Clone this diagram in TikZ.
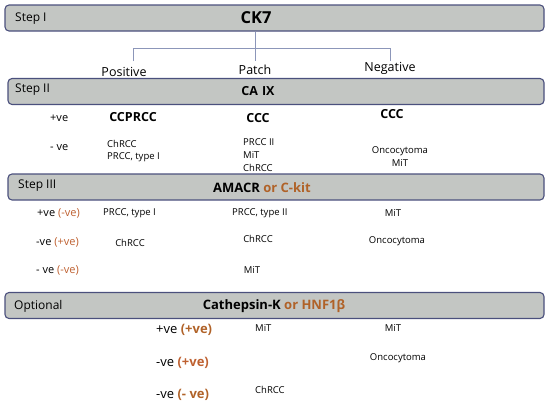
\documentclass[tikz,border=0pt]{standalone}
\usepackage{fontspec}
\setmainfont{Open Sans}
\usetikzlibrary{positioning}
\definecolor{barfill}{RGB}{195,198,195}
\definecolor{bardraw}{RGB}{75,80,125}
\definecolor{treeline}{RGB}{140,150,185}
\definecolor{orbrown}{RGB}{176,98,40}
\definecolor{vebrown}{RGB}{190,96,48}
\tikzset{
  bar/.style={draw=bardraw, fill=barfill, line width=1.1pt, rounded corners=4pt,
    minimum height=26pt, inner sep=0pt},
  steplab/.style={anchor=west, font=\fontsize{12}{13}\selectfont, inner sep=0pt},
  marker/.style={font=\fontsize{12.5}{14}\selectfont\bfseries, inner sep=0pt},
  cell/.style={font=\fontsize{9.5}{11}\selectfont, inner sep=0pt},
  sign/.style={anchor=west, font=\fontsize{11}{12}\selectfont, inner sep=0pt},
  bigsign/.style={anchor=west, font=\fontsize{13}{14}\selectfont, inner sep=0pt},
  tree/.style={draw=treeline, line width=0.7pt}
}
\newcommand{\orpart}[1]{\textcolor{orbrown}{#1}}
\newcommand{\vepart}[1]{\textcolor{vebrown}{#1}}
\begin{document}
\begin{tikzpicture}[x=1pt,y=-1pt]
	\useasboundingbox (0,0) rectangle (550,407);

	% Step I
	\node[bar, minimum width=539pt] (s1) at (274.5,18) {};
	\node[steplab] (s1lab) at (15,19) {Step I};
	\node[marker, font=\fontsize{16.5}{18}\selectfont\bfseries] (ck7) at (256,18) {CK7};

	\coordinate (po) at (133,61);
	\coordinate (pa) at (255,61);
	\coordinate (ne) at (390,61);
	\coordinate (hl) at (0,48);
	\draw[tree] (pa |- s1.south) -- (pa);
	\draw[tree] (po) -- (po |- hl) -- (ne |- hl) -- (ne);

	\node[cell, font=\fontsize{12.5}{13}\selectfont] (pos) at (124,72) {Positive};
	\node[cell, font=\fontsize{12.5}{13}\selectfont] (pat) at (255,70) {Patch};
	\node[cell, font=\fontsize{12.5}{13}\selectfont] (neg) at (390,68) {Negative};

	% Step II
	\node[bar, minimum width=536pt] (s2) at (276,91.5) {};
	\node[steplab] (s2lab) at (15,90) {Step II};
	\node[marker] (caix) at (258,91) {CA\hspace{4pt}IX};

	\node[sign] (s2p) at (50,118) {+ve};
	\node[marker] (ccprcc) at (133,117) {CCPRCC};
	\node[marker] (ccc1) at (258,118) {CCC};
	\node[marker] (ccc2) at (392,114) {CCC};

	\node[sign] (s2m) at (50,148) {- ve};
	\node[cell, anchor=west] (chr1) at (107,144) {ChRCC};
	\node[cell, anchor=west] (prcc1) at (107,157) {PRCC, type I};
	\node[cell, anchor=west] (prcc2) at (243,142) {PRCC II};
	\node[cell, anchor=west] (mit1) at (243,155) {MiT};
	\node[cell, anchor=west] (chr2) at (243,168) {ChRCC};
	\node[cell] (onc1) at (400,151) {Oncocytoma};
	\node[cell] (mit2) at (400,163) {MiT};

	% Step III
	\node[bar, minimum width=536pt] (s3) at (276,187) {};
	\node[steplab] (s3lab) at (18,186) {Step III};
	\node[marker, font=\fontsize{13}{14}\selectfont\bfseries] (amacr) at (262,188) {AMACR \orpart{or C-kit}};

	\node[sign] (s3a) at (37,213) {+ve \vepart{(-ve)}};
	\node[cell, anchor=west] (prcc3) at (103,213) {PRCC, type I};
	\node[cell, anchor=west] (prcc4) at (232,213) {PRCC, type II};
	\node[cell] (mit3) at (393,213) {MiT};

	\node[sign] (s3b) at (36,242) {-ve \vepart{(+ve)}};
	\node[cell] (chr3) at (130,243) {ChRCC};
	\node[cell] (chr4) at (258,239) {ChRCC};
	\node[cell] (onc2) at (397,241) {Oncocytoma};

	\node[sign] (s3c) at (36,270) {- ve \vepart{(-ve)}};
	\node[cell] (mit4) at (252,270) {MiT};

	% Optional
	\node[bar, minimum width=539pt] (s4) at (274.5,305.5) {};
	\node[steplab] (s4lab) at (14,306) {Optional};
	\node[marker, font=\fontsize{13}{14}\selectfont\bfseries] (cathk) at (274,306) {Cathepsin-K \orpart{or HNF1β}};

	\node[bigsign] (s4a) at (156,330) {+ve \textbf{\orpart{(+ve)}}};
	\node[cell, anchor=west] (mit5) at (255,328) {MiT};
	\node[cell] (mit6) at (393,328) {MiT};

	\node[bigsign] (s4b) at (156,363) {-ve \textbf{\vepart{(+ve)}}};
	\node[cell] (onc3) at (398,358) {Oncocytoma};

	\node[bigsign] (s4c) at (156,395) {-ve \textbf{\orpart{(- ve)}}};
	\node[cell, anchor=west] (chr5) at (255,390) {ChRCC};
\end{tikzpicture}
\end{document}
